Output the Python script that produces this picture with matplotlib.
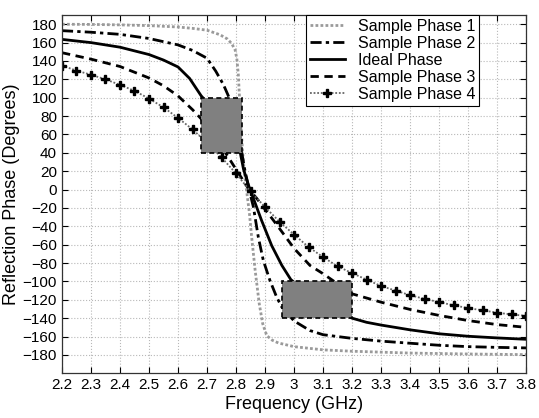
import matplotlib
matplotlib.use("Agg")
import matplotlib.pyplot as plt
from matplotlib.patches import Rectangle
from matplotlib.ticker import FuncFormatter

plt.rcParams['font.family'] = ['Liberation Sans', 'DejaVu Sans']

# values (GHz, degrees)
s1_f = [2.2, 2.3, 2.4, 2.5, 2.6, 2.65, 2.7, 2.745, 2.77, 2.785, 2.797, 2.803,
        2.808, 2.812, 2.817, 2.823, 2.83, 2.838, 2.846, 2.854, 2.866, 2.88,
        2.892, 2.906, 2.925, 2.946, 3.0, 3.1, 3.2, 3.4, 3.6, 3.8]
s1_p = [180, 179.8, 179.3, 178.5, 177, 175.5, 173.5, 168.5, 164, 159, 152, 142,
        125, 100, 70, 40, 15, -5, -25, -52, -88, -124,
        -146, -159, -164, -167, -171, -174.5, -176, -178, -179, -179.7]

s2_f = [2.2, 2.3, 2.4, 2.5, 2.6, 2.65, 2.7, 2.73, 2.757, 2.775, 2.79, 2.8,
        2.81, 2.82, 2.83, 2.845, 2.86, 2.877, 2.894, 2.917, 2.94, 2.958, 3.0,
        3.055, 3.1, 3.2, 3.3, 3.4, 3.5, 3.6, 3.7, 3.8]
s2_p = [173, 171.3, 169, 164.5, 157.5, 151.5, 143, 129, 114, 101, 84, 72,
        57, 40, 22, 0, -19, -52, -77, -99, -117, -128, -143,
        -153.5, -158, -162, -165, -167.3, -169.5, -171, -171.8, -172.4]

ideal_f = [2.2, 2.3, 2.4, 2.5, 2.55, 2.6, 2.64, 2.68, 2.72, 2.76, 2.79, 2.814,
           2.826, 2.848, 2.854, 2.888, 2.923, 2.958, 2.989, 3.05, 3.1, 3.15,
           3.2, 3.25, 3.3, 3.4, 3.5, 3.6, 3.7, 3.8]
ideal_p = [163.5, 160, 155, 147, 141, 133.5, 121, 102, 88, 71, 56, 41,
           22, 0, -4.5, -33.5, -61, -82.5, -98, -114, -125, -133,
           -140, -144.5, -147.5, -152.7, -157, -159.7, -161.5, -163]

s3_f = [2.2, 2.3, 2.4, 2.5, 2.55, 2.6, 2.65, 2.68, 2.72, 2.76, 2.8, 2.845,
        2.87, 2.894, 2.929, 2.963, 3.0, 3.055, 3.1, 3.2, 3.3, 3.4, 3.5, 3.6,
        3.7, 3.8]
s3_p = [149, 142, 134, 121.5, 113, 102, 87, 77, 60, 42, 22, 0,
        -9, -19, -33.5, -48, -64, -82.6, -91.6, -113.5, -122.6, -130.5, -137,
        -142.6, -147, -150]

s4_f = [2.2, 2.25, 2.3, 2.35, 2.4, 2.45, 2.5, 2.55, 2.6, 2.65, 2.7, 2.75,
        2.8, 2.85, 2.9, 2.95, 3.0, 3.05, 3.1, 3.15, 3.2, 3.25, 3.3, 3.35,
        3.4, 3.45, 3.5, 3.55, 3.6, 3.65, 3.7, 3.75, 3.8]
s4_p = [135, 129.5, 125, 120, 114, 107.5, 99, 89.5, 78, 65.5, 51, 35,
        17.5, -2, -19, -35, -49, -62.5, -73.5, -83.5, -91, -98, -105, -110,
        -115, -119, -122.5, -126, -129, -131.5, -134, -136, -137.5]

# gray masks (f0, f1, p0, p1)
masks = [(2.68, 2.82, 40, 100), (2.96, 3.2, -140, -99)]

fig = plt.figure(figsize=(5.39, 4.18), dpi=100)
ax = fig.add_axes([0.115, 0.107, 0.861, 0.857])

ax.plot(s1_f, s1_p, color='#9a9a9a', lw=2.0, ls=(0, (1, 0.8)), label='Sample Phase 1')
ax.plot(s2_f, s2_p, color='black', lw=2.0, ls=(0, (4, 1.5, 1.2, 1.5)), label='Sample Phase 2')
ax.plot(ideal_f, ideal_p, color='black', lw=2.0, ls='-', label='Ideal Phase')
ax.plot(s3_f, s3_p, color='black', lw=2.0, ls=(0, (3, 2)), label='Sample Phase 3')
ax.plot(s4_f, s4_p, color='#666666', lw=1.3, ls=(0, (1, 1)), marker='P',
        mfc='black', mec='black', ms=5.5, label='Sample Phase 4')

for f0, f1, p0, p1 in masks:
    ax.add_patch(Rectangle((f0, p0), f1 - f0, p1 - p0, facecolor='#808080',
                           edgecolor='black', ls=(0, (3, 2)), lw=1.2, zorder=5))

ax.set_xlim(2.2, 3.8)
ax.set_ylim(-200, 190)
ax.set_xticks([2.2 + 0.1 * i for i in range(17)])
ax.set_yticks(range(-180, 181, 20))
ax.xaxis.set_major_formatter(FuncFormatter(lambda v, p: '%g' % round(v, 1)))
ax.tick_params(direction='in', top=True, right=True, labelsize=11, length=4,
               width=0.8)
ax.grid(True, color='#b8b8b8', ls=':', lw=0.8)
ax.set_axisbelow(True)
for s in ax.spines.values():
    s.set_linewidth(0.9)
    s.set_color('#333333')

ax.set_xlabel('Frequency (GHz)', fontsize=13, labelpad=3)
ax.set_ylabel('Reflection Phase (Degrees)', fontsize=13, labelpad=2)

leg = ax.legend(loc='upper right', bbox_to_anchor=(0.899, 1.0), borderaxespad=0,
                fontsize=11.5, handlelength=2.2, handletextpad=0.8,
                labelspacing=0.12, fancybox=False, framealpha=1,
                edgecolor='black', borderpad=0.25)
leg.get_frame().set_linewidth(0.8)

fig.savefig('out.png', dpi=100)
